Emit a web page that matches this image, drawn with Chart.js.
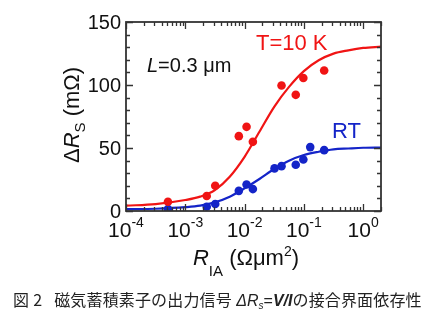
<!DOCTYPE html>
<html>
<head>
<meta charset="utf-8">
<script src="https://cdn.jsdelivr.net/npm/chart.js@4.4.1/dist/chart.umd.min.js"></script>
<style>
  body { margin: 0; background: #fff; }
  #wrap { position: relative; width: 430px; height: 326px; }
  #caption {
    position: absolute; left: 13px; top: 291px; white-space: nowrap; letter-spacing: 0.15px;
    font-family: "Noto Sans CJK JP", sans-serif; font-size: 16px; line-height: 16px; color: #222;
  }
  #caption .lat { font-family: "Liberation Sans", Arial, sans-serif; letter-spacing: 0; }
  #caption sub { font-size: 10px; vertical-align: -3px; line-height: 0; }
</style>
</head>
<body>
<div id="wrap">
  <canvas id="chart" width="430" height="326"></canvas>
  <div id="caption">図<span style="margin-left:4px">2</span><span style="margin-left:12px">磁気蓄積素子の出力信号</span><span class="lat"> <i>&Delta;R<sub>s</sub></i>=<b><i>V/I</i></b></span>の接合界面依存性</div>
</div>
<script>
// measured points, R_IA (Ohm um^2) vs delta R_s (mOhm)
redX = [5.1e-4, 2.3e-3, 3.2e-3, 8.0e-3, 1.08e-2, 1.38e-2, 4.2e-2, 7.3e-2, 9.8e-2, 0.22];
redY = [7.4, 11.9, 20, 59.4, 66.8, 54.9, 99.6, 92.2, 105.6, 111.5];
blueX = [5.1e-4, 2.3e-3, 3.2e-3, 8.0e-3, 1.08e-2, 1.38e-2, 3.2e-2, 4.2e-2, 7.3e-2, 9.8e-2, 0.128, 0.22];
blueY = [1.6, 3.4, 5.5, 16, 21, 17.4, 33.8, 35.6, 36.7, 40.9, 50.7, 48.3];

// fit curves
fitX = [1e-4, 3.16e-4, 1e-3, 1.78e-3, 3.16e-3, 5.62e-3, 1e-2, 1.78e-2, 3.16e-2, 5.62e-2, 0.1, 0.178, 0.316, 0.562, 1, 2];
redFit = [4.2, 5.5, 8.7, 11.4, 16.6, 27.2, 43, 62.9, 82.7, 98.5, 111, 119.6, 124.9, 127.5, 129.4, 130.4];
blueFit = [1.5, 1.8, 3.0, 4.2, 6.9, 11.4, 18, 25.4, 33.3, 39.9, 44.4, 47, 48.9, 49.6, 50.2, 50.4];

yTicks = [0, 50, 100, 150];
xExps = [-4, -3, -2, -1, 0];

RED = "#f01414";
BLUE = "#1424c8";
FONT = '"Liberation Sans", Arial, Helvetica, sans-serif';

function pts(xs, ys) {
  return xs.map((x, i) => ({ x: x, y: ys[i] }));
}

function f(size, style) {
  return (style ? style + " " : "") + size + "px " + FONT;
}

const frame = {
  id: "frame",
  afterDraw(chart) {
    const ctx = chart.ctx;
    const a = chart.chartArea;
    const xs = chart.scales.x;
    const ys = chart.scales.y;
    ctx.save();
    ctx.strokeStyle = "#333";
    ctx.lineWidth = 1.3;
    ctx.beginPath();
    // y ticks, inward on both sides
    for (let v = 0; v <= 150; v += 10) {
      const py = Math.round(ys.getPixelForValue(v)) + 0.5;
      const len = v % 50 == 0 ? 7 : 4;
      ctx.moveTo(a.left, py); ctx.lineTo(a.left + len, py);
      ctx.moveTo(a.right, py); ctx.lineTo(a.right - len, py);
    }
    // x ticks, log
    for (let e = -4; e <= 0; e++) {
      for (let m = 1; m <= 9; m++) {
        const v = m * Math.pow(10, e);
        if (v > xs.max) break;
        const px = Math.round(xs.getPixelForValue(v)) + 0.5;
        const len = m == 1 ? 7 : 4;
        ctx.moveTo(px, a.bottom); ctx.lineTo(px, a.bottom - len);
        ctx.moveTo(px, a.top); ctx.lineTo(px, a.top + len);
      }
    }
    ctx.stroke();
    ctx.lineWidth = 1.8;
    ctx.strokeRect(a.left, a.top, a.right - a.left, a.bottom - a.top);

    // tick labels
    ctx.fillStyle = "#111";
    ctx.font = f(20);
    ctx.textAlign = "right";
    ctx.textBaseline = "middle";
    yTicks.forEach((v) => ctx.fillText(String(v), 121, ys.getPixelForValue(v) + 1));
    ctx.textAlign = "left";
    ctx.textBaseline = "alphabetic";
    xExps.forEach((e) => {
      const px = xs.getPixelForValue(Math.pow(10, e));
      ctx.font = f(21);
      const w1 = ctx.measureText("10").width;
      ctx.font = f(14);
      const sup = String(e);
      const w2 = ctx.measureText(sup).width;
      const x0 = px - (w1 + w2) / 2;
      ctx.font = f(21);
      ctx.fillText("10", x0, 237);
      ctx.font = f(14);
      ctx.fillText(sup, x0 + w1, 227);
    });

    // x title
    let parts = [
      ["R", f(22, "italic"), 0],
      ["IA", f(15), 11],
      [" (\u03A9\u03BCm", f(22), 0],
      ["2", f(14), -9],
      [")", f(22), 0],
    ];
    let tw = 0;
    parts.forEach((p) => { ctx.font = p[1]; tw += ctx.measureText(p[0]).width; });
    let cx = 246 - tw / 2;
    parts.forEach((p) => {
      ctx.font = p[1];
      ctx.fillText(p[0], cx, 265 + p[2]);
      cx += ctx.measureText(p[0]).width;
    });

    // y title, rotated
    ctx.save();
    ctx.translate(79, 115);
    ctx.rotate(-Math.PI / 2);
    parts = [
      ["\u0394", f(22), 0],
      ["R", f(22, "italic"), 0],
      ["S", f(15), 6],
      [" (m\u03A9)", f(22), 0],
    ];
    tw = 0;
    parts.forEach((p) => { ctx.font = p[1]; tw += ctx.measureText(p[0]).width; });
    cx = -tw / 2;
    parts.forEach((p) => {
      ctx.font = p[1];
      ctx.fillText(p[0], cx, p[2]);
      cx += ctx.measureText(p[0]).width;
    });
    ctx.restore();

    // annotations
    ctx.font = f(20, "italic");
    ctx.fillText("L", 147, 72);
    const wl = ctx.measureText("L").width;
    ctx.font = f(20);
    ctx.fillText("=0.3 \u03BCm", 147 + wl, 72);
    ctx.font = f(22);
    ctx.fillStyle = RED;
    ctx.fillText("T=10 K", 256, 50);
    ctx.fillStyle = BLUE;
    ctx.fillText("RT", 332, 138);
    ctx.restore();
  },
};

const ctx = document.getElementById("chart").getContext("2d");
myChart = new Chart(ctx, {
  type: "scatter",
  data: {
    datasets: [
      { data: pts(fitX, redFit), showLine: true, borderColor: RED, borderWidth: 2.2, pointRadius: 0, cubicInterpolationMode: "monotone" },
      { data: pts(fitX, blueFit), showLine: true, borderColor: BLUE, borderWidth: 2.2, pointRadius: 0, cubicInterpolationMode: "monotone" },
      { data: pts(redX, redY), pointRadius: 4.3, backgroundColor: RED, borderWidth: 0 },
      { data: pts(blueX, blueY), pointRadius: 4.3, backgroundColor: BLUE, borderWidth: 0 },
    ],
  },
  options: {
    responsive: false,
    animation: false,
    devicePixelRatio: 1,
    layout: { padding: { left: 126, right: 49, top: 22, bottom: 115 } },
    plugins: { legend: { display: false }, tooltip: { enabled: false } },
    scales: {
      x: { type: "logarithmic", min: 1e-4, max: 2, display: false },
      y: { min: 0, max: 150, display: false },
    },
  },
  plugins: [frame],
});
</script>
</body>
</html>
